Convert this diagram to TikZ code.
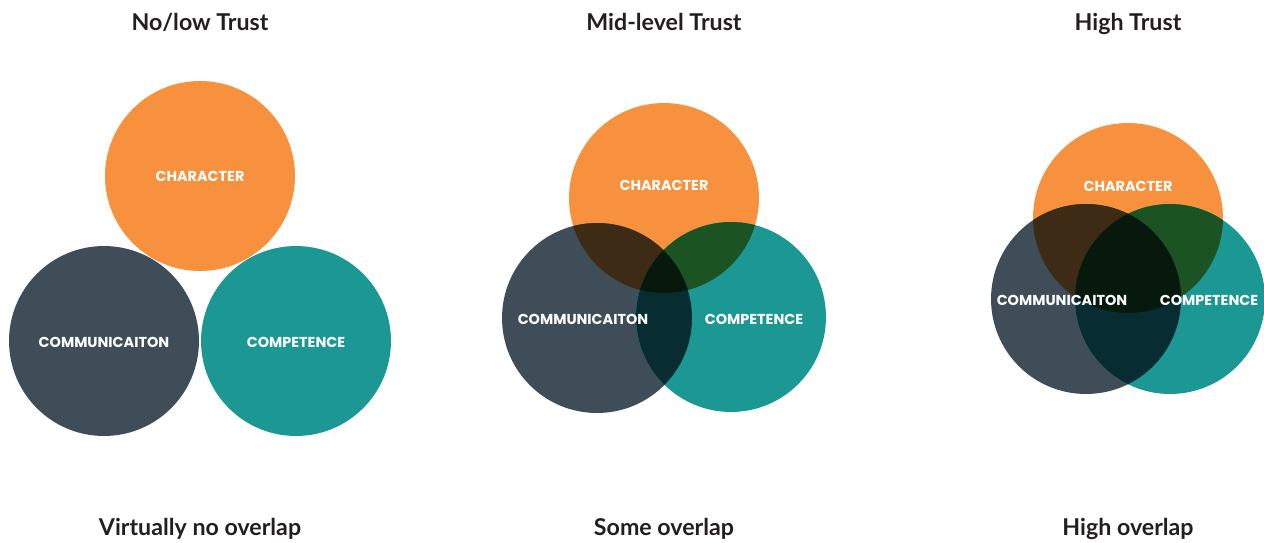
\documentclass[tikz,border=0pt]{standalone}
\usepackage{fontspec}
\setmainfont{Lato}
\newfontfamily\circfont{Poppins}
\usepackage{xcolor}
\usetikzlibrary{calc}

\definecolor{chorange}{HTML}{F7913D}
\definecolor{cmslate}{HTML}{3E4D57}
\definecolor{cpteal}{HTML}{1C9894}
\definecolor{chcm}{HTML}{3D2B16}
\definecolor{chcp}{HTML}{1B5422}
\definecolor{cmcp}{HTML}{072D32}
\definecolor{allthree}{HTML}{07190C}
\definecolor{titlegray}{HTML}{231F20}

\begin{document}
\begin{tikzpicture}[x=0.02cm, y=-0.02cm]
        % Styles for headings and circle labels
        \tikzstyle{heading}=[text=titlegray, anchor=base, font=\fontsize{13.2}{16}\selectfont\bfseries];
        \tikzstyle{circlabel}=[text=white, font=\circfont\fontsize{8.2}{10}\selectfont\bfseries];

        \useasboundingbox (0,0) rectangle (1264,542);

        % Centres of the circles: a = no/low, b = mid-level, c = high
        \coordinate (a-ch) at (200,176);
        \coordinate (a-cm) at (104,341);
        \coordinate (a-cp) at (296,341);
        \coordinate (b-ch) at (664,198);
        \coordinate (b-cm) at (597,318);
        \coordinate (b-cp) at (731,317);
        \coordinate (c-ch) at (1128,218);
        \coordinate (c-cm) at (1086,299);
        \coordinate (c-cp) at (1170,299);

        \foreach \p in {a,b,c} {
            % The three sets
            \fill[chorange] (\p-ch) circle (1.9cm);
            \fill[cmslate] (\p-cm) circle (1.9cm);
            \fill[cpteal] (\p-cp) circle (1.9cm);

            % Pairwise overlaps
            \begin{scope}
                \clip (\p-ch) circle (1.9cm);
                \fill[chcm] (\p-cm) circle (1.9cm);
                \fill[chcp] (\p-cp) circle (1.9cm);
            \end{scope}
            \begin{scope}
                \clip (\p-cm) circle (1.9cm);
                \fill[cmcp] (\p-cp) circle (1.9cm);
            \end{scope}

            % Overlap of all three
            \begin{scope}
                \clip (\p-ch) circle (1.9cm);
                \clip (\p-cm) circle (1.9cm);
                \fill[allthree] (\p-cp) circle (1.9cm);
            \end{scope}
        }

        % Labels inside the circles
        \node[circlabel] (a-chlab) at (200,176) {CHARACTER};
        \node[circlabel] (a-cmlab) at (104,342) {COMMUNICAITON};
        \node[circlabel] (a-cplab) at (296,342) {COMPETENCE};
        \node[circlabel] (b-chlab) at (664,185) {CHARACTER};
        \node[circlabel] (b-cmlab) at (583,319) {COMMUNICAITON};
        \node[circlabel] (b-cplab) at (754,319) {COMPETENCE};
        \node[circlabel] (c-chlab) at (1128,186) {CHARACTER};
        \node[circlabel] (c-cmlab) at (1062,300) {COMMUNICAITON};
        \node[circlabel] (c-cplab) at (1209,300) {COMPETENCE};

        % Headings and captions
        \node[heading] (a-title) at (200,30) {No/low Trust};
        \node[heading] (b-title) at (664,30) {Mid-level Trust};
        \node[heading] (c-title) at (1128,30) {High Trust};
        \node[heading] (a-cap) at (200,535) {Virtually no overlap};
        \node[heading] (b-cap) at (664,535) {Some overlap};
        \node[heading] (c-cap) at (1128,535) {High overlap};
    \end{tikzpicture}
\end{document}
